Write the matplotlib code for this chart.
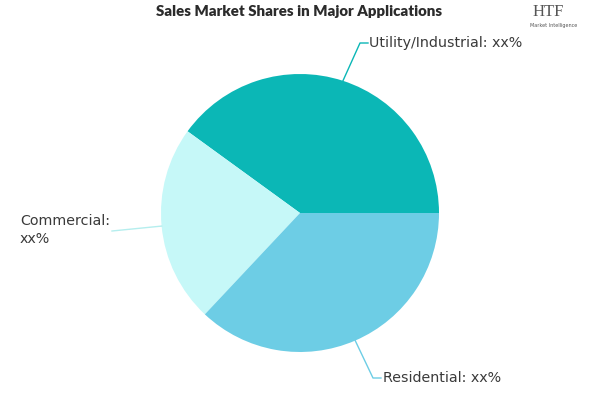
import matplotlib
matplotlib.use("Agg")
import matplotlib.pyplot as plt
import numpy as np

categories = ["Utility/Industrial", "Commercial", "Residential"]
shares = [40, 23, 37]
labels = ["Utility/Industrial: xx%", "Commercial:\nxx%", "Residential: xx%"]
colors = ["#0BB7B6", "#C6F8F8", "#6DCDE5"]

W, H = 600, 400
fig = plt.figure(figsize=(6, 4), dpi=100)
ax = fig.add_axes([0, 0, 1, 1])

cx, cy, r = 300, H - 213, 139
wedges, _ = ax.pie(shares, colors=colors, startangle=0, counterclock=True,
                   center=(cx, cy), radius=r, frame=True,
                   wedgeprops=dict(linewidth=0))
ax.set_xlim(0, W)
ax.set_ylim(0, H)
ax.set_aspect("equal")
ax.axis("off")

txtc = "#3a3a3a"
lf = dict(fontsize=10.3, color=txtc, family="DejaVu Sans")

def mid(w):
    a = np.deg2rad((w.theta1 + w.theta2) / 2)
    return cx + r * np.cos(a), cy + r * np.sin(a)

# Utility
x0, y0 = mid(wedges[0])
ax.plot([x0, 360, 368], [y0, H - 43, H - 43], color=colors[0], lw=1)
ax.text(369, H - 43, labels[0], ha="left", va="center", **lf)
# Commercial
x0, y0 = mid(wedges[1])
ax.plot([x0, 112], [y0, H - 231], color="#B5EEEE", lw=1)
ax.text(20, H - 230, labels[1], ha="left", va="center", linespacing=1.3, **lf)
# Residential
x0, y0 = mid(wedges[2])
ax.plot([x0, 373, 381], [y0, H - 378, H - 378], color=colors[2], lw=1)
ax.text(383, H - 378, labels[2], ha="left", va="center", **lf)

ax.text(299, H - 12, "Sales Market Shares in Major Applications", ha="center", va="center",
        fontsize=10.8, fontweight="heavy", color="#2b2b2b",
        family=["Lato", "DejaVu Sans"])

# logo text
ax.text(548, H - 12, "HTF", ha="center", va="center", fontsize=12, color="#555555",
        family=["Liberation Serif", "DejaVu Serif"])
ax.text(554, H - 26, "Market Intelligence", ha="center", va="center", fontsize=3.5,
        color="#555555")

fig.savefig("out.png", dpi=100)
